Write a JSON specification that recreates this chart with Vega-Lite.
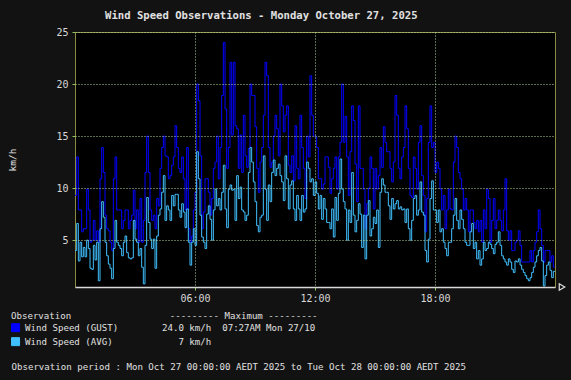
{
"$schema": "https://vega.github.io/schema/vega-lite/v6.json",
"width": 480, "height": 255,
"autosize": {"type": "none"},
"padding": {"left": 75, "top": 32, "right": 16, "bottom": 93},
"background": "#121212",
"config": {"font": "DejaVu Sans Mono", "view": {"stroke": "#8a8a40", "fill": "#000000"}},
"title": {"text": "Wind Speed Observations - Monday October 27, 2025", "anchor": "start", "frame": "group", "dx": 30, "offset": 5, "fontSize": 10.6, "font": "DejaVu Sans Mono", "fontWeight": "bold", "color": "#e0e0e0"},
"layer": [
{
"data": {"values": [
{"t":"2025-10-27T00:00","gust":9.3,"avg":4.0},{"t":"2025-10-27T00:05","gust":13.0,"avg":6.6},{"t":"2025-10-27T00:10","gust":7.9,"avg":3.0},{"t":"2025-10-27T00:15","gust":7.9,"avg":4.8},{"t":"2025-10-27T00:20","gust":5.8,"avg":3.4},{"t":"2025-10-27T00:25","gust":6.1,"avg":4.3},{"t":"2025-10-27T00:30","gust":6.1,"avg":3.4},{"t":"2025-10-27T00:35","gust":9.9,"avg":5.0},{"t":"2025-10-27T00:40","gust":7.9,"avg":4.2},{"t":"2025-10-27T00:45","gust":4.8,"avg":2.3},{"t":"2025-10-27T00:50","gust":5.0,"avg":2.2},{"t":"2025-10-27T00:55","gust":6.9,"avg":4.5},
{"t":"2025-10-27T01:00","gust":5.0,"avg":3.1},{"t":"2025-10-27T01:05","gust":5.9,"avg":4.8},{"t":"2025-10-27T01:10","gust":4.8,"avg":1.1},{"t":"2025-10-27T01:15","gust":10.9,"avg":6.1},{"t":"2025-10-27T01:20","gust":13.9,"avg":8.7},{"t":"2025-10-27T01:25","gust":11.5,"avg":7.2},{"t":"2025-10-27T01:30","gust":7.4,"avg":4.8},{"t":"2025-10-27T01:35","gust":6.1,"avg":3.5},{"t":"2025-10-27T01:40","gust":5.9,"avg":2.7},{"t":"2025-10-27T01:45","gust":4.8,"avg":2.3},{"t":"2025-10-27T01:50","gust":4.0,"avg":1.3},{"t":"2025-10-27T01:55","gust":10.9,"avg":4.2},
{"t":"2025-10-27T02:00","gust":13.0,"avg":6.9},{"t":"2025-10-27T02:05","gust":7.9,"avg":4.8},{"t":"2025-10-27T02:10","gust":7.9,"avg":4.5},{"t":"2025-10-27T02:15","gust":7.9,"avg":4.2},{"t":"2025-10-27T02:20","gust":6.1,"avg":3.5},{"t":"2025-10-27T02:25","gust":6.9,"avg":4.8},{"t":"2025-10-27T02:30","gust":7.9,"avg":5.4},{"t":"2025-10-27T02:35","gust":7.9,"avg":3.8},{"t":"2025-10-27T02:40","gust":6.1,"avg":3.3},{"t":"2025-10-27T02:45","gust":6.9,"avg":3.2},{"t":"2025-10-27T02:50","gust":7.4,"avg":3.3},{"t":"2025-10-27T02:55","gust":9.8,"avg":6.9},
{"t":"2025-10-27T03:00","gust":6.1,"avg":5.1},{"t":"2025-10-27T03:05","gust":7.9,"avg":4.8},{"t":"2025-10-27T03:10","gust":4.8,"avg":3.5},{"t":"2025-10-27T03:15","gust":9.0,"avg":4.2},{"t":"2025-10-27T03:20","gust":4.8,"avg":2.4},{"t":"2025-10-27T03:25","gust":6.9,"avg":0.8},{"t":"2025-10-27T03:30","gust":11.5,"avg":4.5},{"t":"2025-10-27T03:35","gust":15.0,"avg":9.1},{"t":"2025-10-27T03:40","gust":11.5,"avg":6.7},{"t":"2025-10-27T03:45","gust":7.9,"avg":5.1},{"t":"2025-10-27T03:50","gust":6.9,"avg":4.2},{"t":"2025-10-27T03:55","gust":7.4,"avg":5.1},
{"t":"2025-10-27T04:00","gust":6.1,"avg":2.3},{"t":"2025-10-27T04:05","gust":9.0,"avg":5.4},{"t":"2025-10-27T04:10","gust":8.3,"avg":7.4},{"t":"2025-10-27T04:15","gust":11.9,"avg":8.0},{"t":"2025-10-27T04:20","gust":13.9,"avg":9.6},{"t":"2025-10-27T04:25","gust":15.0,"avg":11.2},{"t":"2025-10-27T04:30","gust":13.1,"avg":6.9},{"t":"2025-10-27T04:35","gust":13.0,"avg":8.3},{"t":"2025-10-27T04:40","gust":10.9,"avg":7.9},{"t":"2025-10-27T04:45","gust":11.2,"avg":6.9},{"t":"2025-10-27T04:50","gust":12.2,"avg":9.3},{"t":"2025-10-27T04:55","gust":13.0,"avg":8.3},
{"t":"2025-10-27T05:00","gust":16.0,"avg":9.4},{"t":"2025-10-27T05:05","gust":13.9,"avg":9.4},{"t":"2025-10-27T05:10","gust":11.9,"avg":7.9},{"t":"2025-10-27T05:15","gust":11.5,"avg":7.2},{"t":"2025-10-27T05:20","gust":13.0,"avg":8.5},{"t":"2025-10-27T05:25","gust":10.9,"avg":7.7},{"t":"2025-10-27T05:30","gust":7.9,"avg":6.2},{"t":"2025-10-27T05:35","gust":13.9,"avg":8.0},{"t":"2025-10-27T05:40","gust":6.1,"avg":4.8},{"t":"2025-10-27T05:45","gust":4.8,"avg":2.6},{"t":"2025-10-27T05:50","gust":5.4,"avg":4.8},{"t":"2025-10-27T05:55","gust":7.9,"avg":6.1},
{"t":"2025-10-27T06:00","gust":9.6,"avg":4.5},{"t":"2025-10-27T06:05","gust":20.0,"avg":13.5},{"t":"2025-10-27T06:10","gust":18.4,"avg":10.9},{"t":"2025-10-27T06:15","gust":13.1,"avg":7.4},{"t":"2025-10-27T06:20","gust":6.1,"avg":5.3},{"t":"2025-10-27T06:25","gust":7.7,"avg":4.8},{"t":"2025-10-27T06:30","gust":10.9,"avg":4.2},{"t":"2025-10-27T06:35","gust":10.9,"avg":7.5},{"t":"2025-10-27T06:40","gust":9.6,"avg":8.3},{"t":"2025-10-27T06:45","gust":7.4,"avg":7.0},{"t":"2025-10-27T06:50","gust":9.0,"avg":5.0},{"t":"2025-10-27T06:55","gust":11.9,"avg":7.9},
{"t":"2025-10-27T07:00","gust":12.5,"avg":9.9},{"t":"2025-10-27T07:05","gust":15.0,"avg":8.3},{"t":"2025-10-27T07:10","gust":10.9,"avg":9.0},{"t":"2025-10-27T07:15","gust":13.9,"avg":7.9},{"t":"2025-10-27T07:20","gust":18.9,"avg":9.6},{"t":"2025-10-27T07:25","gust":24.0,"avg":12.2},{"t":"2025-10-27T07:30","gust":17.6,"avg":8.0},{"t":"2025-10-27T07:35","gust":11.9,"avg":6.2},{"t":"2025-10-27T07:40","gust":13.9,"avg":9.9},{"t":"2025-10-27T07:45","gust":22.1,"avg":10.3},{"t":"2025-10-27T07:50","gust":15.1,"avg":9.8},{"t":"2025-10-27T07:55","gust":22.1,"avg":9.9},
{"t":"2025-10-27T08:00","gust":16.0,"avg":6.9},{"t":"2025-10-27T08:05","gust":15.7,"avg":11.2},{"t":"2025-10-27T08:10","gust":11.9,"avg":9.0},{"t":"2025-10-27T08:15","gust":15.1,"avg":10.1},{"t":"2025-10-27T08:20","gust":11.5,"avg":7.9},{"t":"2025-10-27T08:25","gust":17.0,"avg":7.7},{"t":"2025-10-27T08:30","gust":13.1,"avg":6.9},{"t":"2025-10-27T08:35","gust":12.0,"avg":7.4},{"t":"2025-10-27T08:40","gust":13.8,"avg":11.5},{"t":"2025-10-27T08:45","gust":20.0,"avg":13.9},{"t":"2025-10-27T08:50","gust":18.9,"avg":12.5},{"t":"2025-10-27T08:55","gust":18.9,"avg":10.6},
{"t":"2025-10-27T09:00","gust":15.9,"avg":8.7},{"t":"2025-10-27T09:05","gust":11.9,"avg":6.4},{"t":"2025-10-27T09:10","gust":9.6,"avg":5.8},{"t":"2025-10-27T09:15","gust":12.5,"avg":7.2},{"t":"2025-10-27T09:20","gust":13.9,"avg":7.4},{"t":"2025-10-27T09:25","gust":17.0,"avg":13.1},{"t":"2025-10-27T09:30","gust":22.1,"avg":9.9},{"t":"2025-10-27T09:35","gust":20.8,"avg":6.9},{"t":"2025-10-27T09:40","gust":13.9,"avg":10.3},{"t":"2025-10-27T09:45","gust":12.0,"avg":8.7},{"t":"2025-10-27T09:50","gust":12.5,"avg":11.5},{"t":"2025-10-27T09:55","gust":15.0,"avg":12.7},
{"t":"2025-10-27T10:00","gust":17.0,"avg":11.2},{"t":"2025-10-27T10:05","gust":15.7,"avg":11.9},{"t":"2025-10-27T10:10","gust":13.1,"avg":12.3},{"t":"2025-10-27T10:15","gust":20.0,"avg":11.2},{"t":"2025-10-27T10:20","gust":17.9,"avg":10.6},{"t":"2025-10-27T10:25","gust":15.4,"avg":8.8},{"t":"2025-10-27T10:30","gust":17.0,"avg":13.1},{"t":"2025-10-27T10:35","gust":17.9,"avg":10.9},{"t":"2025-10-27T10:40","gust":12.2,"avg":8.0},{"t":"2025-10-27T10:45","gust":11.5,"avg":10.3},{"t":"2025-10-27T10:50","gust":13.1,"avg":10.7},{"t":"2025-10-27T10:55","gust":10.7,"avg":8.0},
{"t":"2025-10-27T11:00","gust":16.0,"avg":6.9},{"t":"2025-10-27T11:05","gust":11.9,"avg":9.3},{"t":"2025-10-27T11:10","gust":10.9,"avg":8.0},{"t":"2025-10-27T11:15","gust":17.0,"avg":6.9},{"t":"2025-10-27T11:20","gust":13.9,"avg":9.3},{"t":"2025-10-27T11:25","gust":11.9,"avg":7.7},{"t":"2025-10-27T11:30","gust":9.0,"avg":8.0},{"t":"2025-10-27T11:35","gust":15.0,"avg":12.5},{"t":"2025-10-27T11:40","gust":13.0,"avg":11.9},{"t":"2025-10-27T11:45","gust":20.8,"avg":10.6},{"t":"2025-10-27T11:50","gust":17.0,"avg":10.9},{"t":"2025-10-27T11:55","gust":15.0,"avg":9.3},
{"t":"2025-10-27T12:00","gust":15.0,"avg":10.6},{"t":"2025-10-27T12:05","gust":13.9,"avg":9.5},{"t":"2025-10-27T12:10","gust":10.9,"avg":8.0},{"t":"2025-10-27T12:15","gust":10.9,"avg":9.3},{"t":"2025-10-27T12:20","gust":9.9,"avg":7.0},{"t":"2025-10-27T12:25","gust":10.4,"avg":9.0},{"t":"2025-10-27T12:30","gust":13.0,"avg":8.0},{"t":"2025-10-27T12:35","gust":13.0,"avg":6.7},{"t":"2025-10-27T12:40","gust":12.0,"avg":6.7},{"t":"2025-10-27T12:45","gust":9.5,"avg":6.1},{"t":"2025-10-27T12:50","gust":10.9,"avg":8.0},{"t":"2025-10-27T12:55","gust":11.9,"avg":5.3},
{"t":"2025-10-27T13:00","gust":13.0,"avg":9.1},{"t":"2025-10-27T13:05","gust":9.9,"avg":6.9},{"t":"2025-10-27T13:10","gust":13.0,"avg":9.5},{"t":"2025-10-27T13:15","gust":14.4,"avg":12.8},{"t":"2025-10-27T13:20","gust":20.0,"avg":9.9},{"t":"2025-10-27T13:25","gust":14.4,"avg":8.7},{"t":"2025-10-27T13:30","gust":16.9,"avg":8.0},{"t":"2025-10-27T13:35","gust":13.0,"avg":5.0},{"t":"2025-10-27T13:40","gust":9.3,"avg":7.9},{"t":"2025-10-27T13:45","gust":13.5,"avg":6.7},{"t":"2025-10-27T13:50","gust":17.9,"avg":11.5},{"t":"2025-10-27T13:55","gust":16.5,"avg":7.4},
{"t":"2025-10-27T14:00","gust":12.3,"avg":5.8},{"t":"2025-10-27T14:05","gust":8.7,"avg":6.9},{"t":"2025-10-27T14:10","gust":17.9,"avg":8.5},{"t":"2025-10-27T14:15","gust":11.9,"avg":7.5},{"t":"2025-10-27T14:20","gust":11.9,"avg":4.3},{"t":"2025-10-27T14:25","gust":9.9,"avg":7.4},{"t":"2025-10-27T14:30","gust":6.1,"avg":3.2},{"t":"2025-10-27T14:35","gust":8.5,"avg":7.4},{"t":"2025-10-27T14:40","gust":10.0,"avg":8.8},{"t":"2025-10-27T14:45","gust":13.0,"avg":5.4},{"t":"2025-10-27T14:50","gust":11.9,"avg":6.1},{"t":"2025-10-27T14:55","gust":8.0,"avg":7.2},
{"t":"2025-10-27T15:00","gust":11.9,"avg":6.6},{"t":"2025-10-27T15:05","gust":9.9,"avg":7.9},{"t":"2025-10-27T15:10","gust":11.2,"avg":4.3},{"t":"2025-10-27T15:15","gust":13.9,"avg":9.6},{"t":"2025-10-27T15:20","gust":12.0,"avg":10.9},{"t":"2025-10-27T15:25","gust":15.9,"avg":10.3},{"t":"2025-10-27T15:30","gust":14.4,"avg":9.6},{"t":"2025-10-27T15:35","gust":13.5,"avg":9.6},{"t":"2025-10-27T15:40","gust":13.5,"avg":8.3},{"t":"2025-10-27T15:45","gust":11.9,"avg":7.0},{"t":"2025-10-27T15:50","gust":10.6,"avg":9.0},{"t":"2025-10-27T15:55","gust":12.5,"avg":8.0},
{"t":"2025-10-27T16:00","gust":18.9,"avg":8.5},{"t":"2025-10-27T16:05","gust":17.0,"avg":8.8},{"t":"2025-10-27T16:10","gust":11.9,"avg":8.0},{"t":"2025-10-27T16:15","gust":10.9,"avg":8.2},{"t":"2025-10-27T16:20","gust":13.0,"avg":7.9},{"t":"2025-10-27T16:25","gust":13.9,"avg":8.0},{"t":"2025-10-27T16:30","gust":17.9,"avg":6.7},{"t":"2025-10-27T16:35","gust":15.7,"avg":8.0},{"t":"2025-10-27T16:40","gust":11.9,"avg":6.1},{"t":"2025-10-27T16:45","gust":9.3,"avg":5.0},{"t":"2025-10-27T16:50","gust":9.1,"avg":6.9},{"t":"2025-10-27T16:55","gust":13.0,"avg":9.0},
{"t":"2025-10-27T17:00","gust":11.9,"avg":9.3},{"t":"2025-10-27T17:05","gust":9.9,"avg":7.4},{"t":"2025-10-27T17:10","gust":14.4,"avg":7.9},{"t":"2025-10-27T17:15","gust":16.0,"avg":10.6},{"t":"2025-10-27T17:20","gust":11.2,"avg":7.7},{"t":"2025-10-27T17:25","gust":9.3,"avg":7.4},{"t":"2025-10-27T17:30","gust":5.8,"avg":4.0},{"t":"2025-10-27T17:35","gust":9.0,"avg":2.9},{"t":"2025-10-27T17:40","gust":14.4,"avg":5.1},{"t":"2025-10-27T17:45","gust":17.9,"avg":9.0},{"t":"2025-10-27T17:50","gust":13.9,"avg":10.7},{"t":"2025-10-27T17:55","gust":14.4,"avg":7.9},
{"t":"2025-10-27T18:00","gust":11.5,"avg":7.9},{"t":"2025-10-27T18:05","gust":12.5,"avg":6.7},{"t":"2025-10-27T18:10","gust":11.9,"avg":7.9},{"t":"2025-10-27T18:15","gust":9.9,"avg":5.8},{"t":"2025-10-27T18:20","gust":7.9,"avg":6.1},{"t":"2025-10-27T18:25","gust":9.3,"avg":4.8},{"t":"2025-10-27T18:30","gust":6.1,"avg":4.2},{"t":"2025-10-27T18:35","gust":7.9,"avg":3.5},{"t":"2025-10-27T18:40","gust":9.9,"avg":4.8},{"t":"2025-10-27T18:45","gust":8.0,"avg":4.8},{"t":"2025-10-27T18:50","gust":7.9,"avg":6.1},{"t":"2025-10-27T18:55","gust":12.5,"avg":7.4},
{"t":"2025-10-27T19:00","gust":15.0,"avg":9.0},{"t":"2025-10-27T19:05","gust":13.9,"avg":6.9},{"t":"2025-10-27T19:10","gust":11.5,"avg":6.1},{"t":"2025-10-27T19:15","gust":10.9,"avg":7.9},{"t":"2025-10-27T19:20","gust":9.9,"avg":7.0},{"t":"2025-10-27T19:25","gust":7.9,"avg":6.1},{"t":"2025-10-27T19:30","gust":9.0,"avg":4.8},{"t":"2025-10-27T19:35","gust":7.9,"avg":4.5},{"t":"2025-10-27T19:40","gust":5.8,"avg":4.5},{"t":"2025-10-27T19:45","gust":7.9,"avg":5.8},{"t":"2025-10-27T19:50","gust":7.9,"avg":6.6},{"t":"2025-10-27T19:55","gust":6.7,"avg":4.2},
{"t":"2025-10-27T20:00","gust":6.1,"avg":4.8},{"t":"2025-10-27T20:05","gust":6.9,"avg":3.2},{"t":"2025-10-27T20:10","gust":5.8,"avg":4.0},{"t":"2025-10-27T20:15","gust":6.9,"avg":2.6},{"t":"2025-10-27T20:20","gust":4.8,"avg":3.2},{"t":"2025-10-27T20:25","gust":7.9,"avg":4.8},{"t":"2025-10-27T20:30","gust":6.1,"avg":4.0},{"t":"2025-10-27T20:35","gust":9.9,"avg":4.2},{"t":"2025-10-27T20:40","gust":9.0,"avg":4.8},{"t":"2025-10-27T20:45","gust":4.8,"avg":4.6},{"t":"2025-10-27T20:50","gust":6.9,"avg":4.2},{"t":"2025-10-27T20:55","gust":9.0,"avg":3.7},
{"t":"2025-10-27T21:00","gust":6.1,"avg":4.6},{"t":"2025-10-27T21:05","gust":6.9,"avg":4.8},{"t":"2025-10-27T21:10","gust":7.9,"avg":5.8},{"t":"2025-10-27T21:15","gust":6.9,"avg":4.5},{"t":"2025-10-27T21:20","gust":5.9,"avg":3.5},{"t":"2025-10-27T21:25","gust":7.9,"avg":3.2},{"t":"2025-10-27T21:30","gust":10.9,"avg":2.9},{"t":"2025-10-27T21:35","gust":5.9,"avg":2.6},{"t":"2025-10-27T21:40","gust":5.0,"avg":3.2},{"t":"2025-10-27T21:45","gust":5.9,"avg":2.9},{"t":"2025-10-27T21:50","gust":4.0,"avg":2.2},{"t":"2025-10-27T21:55","gust":4.0,"avg":1.9},
{"t":"2025-10-27T22:00","gust":4.8,"avg":3.0},{"t":"2025-10-27T22:05","gust":5.0,"avg":2.9},{"t":"2025-10-27T22:10","gust":5.9,"avg":3.2},{"t":"2025-10-27T22:15","gust":4.5,"avg":2.6},{"t":"2025-10-27T22:20","gust":2.9,"avg":2.2},{"t":"2025-10-27T22:25","gust":2.9,"avg":1.9},{"t":"2025-10-27T22:30","gust":2.9,"avg":1.6},{"t":"2025-10-27T22:35","gust":2.9,"avg":1.3},{"t":"2025-10-27T22:40","gust":2.9,"avg":1.1},{"t":"2025-10-27T22:45","gust":4.0,"avg":1.4},{"t":"2025-10-27T22:50","gust":2.9,"avg":1.9},{"t":"2025-10-27T22:55","gust":4.0,"avg":2.4},
{"t":"2025-10-27T23:00","gust":4.8,"avg":2.9},{"t":"2025-10-27T23:05","gust":5.8,"avg":3.5},{"t":"2025-10-27T23:10","gust":7.9,"avg":4.0},{"t":"2025-10-27T23:15","gust":6.1,"avg":4.3},{"t":"2025-10-27T23:20","gust":4.5,"avg":3.0},{"t":"2025-10-27T23:25","gust":2.9,"avg":0.6},{"t":"2025-10-27T23:30","gust":4.0,"avg":1.6},{"t":"2025-10-27T23:35","gust":4.0,"avg":2.6},{"t":"2025-10-27T23:40","gust":4.0,"avg":2.9},{"t":"2025-10-27T23:45","gust":2.9,"avg":2.1},{"t":"2025-10-27T23:50","gust":3.5,"avg":1.4},{"t":"2025-10-27T23:55","gust":2.4,"avg":2.0},
{"t":"2025-10-28T00:00","gust":2.4,"avg":2.0}
]},
"transform": [{"fold": ["gust", "avg"], "as": ["series", "v"]}],
"mark": {"type": "line", "interpolate": "step-after", "strokeWidth": 1},
"encoding": {
"x": {"field": "t", "type": "temporal",
 "scale": {"domain": [{"year": 2025, "month": 10, "date": 27, "hours": 0}, {"year": 2025, "month": 10, "date": 28, "hours": 0}]},
 "axis": {"values": [{"year": 2025, "month": 10, "date": 27, "hours": 6}, {"year": 2025, "month": 10, "date": 27, "hours": 12}, {"year": 2025, "month": 10, "date": 27, "hours": 18}],
  "format": "%H:%M", "labelFont": "DejaVu Sans Mono", "labelFontSize": 10, "labelColor": "#d8d8d8", "labelPadding": 3,
  "tickSize": 3, "tickColor": "#90c060", "domainColor": "#d8d8d8", "domainWidth": 1.5,
  "grid": true, "gridColor": "#b8d8a0", "gridDash": [1, 2], "gridWidth": 1, "zindex": 1, "labelFlush": false,
  "title": "Observation period : Mon Oct 27 00:00:00 AEDT 2025 to Tue Oct 28 00:00:00 AEDT 2025",
  "titleFont": "DejaVu Sans Mono", "titleFontSize": 9.1, "titleFontWeight": "normal", "titleColor": "#e0e0e0",
  "titleX": -64, "titleY": 79, "titleAlign": "left", "titleBaseline": "middle", "titleAnchor": "start"}},
"y": {"field": "v", "type": "quantitative",
 "scale": {"domain": [0.5, 25], "nice": false, "zero": false},
 "axis": {"values": [5, 10, 15, 20, 25], "labelFont": "DejaVu Sans Mono", "labelFontSize": 10, "labelColor": "#d8d8d8", "labelPadding": 4,
  "tickSize": 3, "tickColor": "#90c060", "domain": false,
  "grid": true, "gridColor": "#b8d8a0", "gridDash": [1, 2], "gridWidth": 1, "zindex": 1,
  "title": "km/h", "titleFont": "DejaVu Sans Mono", "titleFontSize": 9.5, "titleFontWeight": "normal", "titleColor": "#e0e0e0", "titlePadding": 38}},
"color": {"field": "series", "type": "nominal",
 "scale": {"domain": ["gust", "avg"], "range": ["#0000ff", "#40c0ff"]},
 "legend": {"orient": "none", "legendX": -64, "legendY": 280, "padding": 0,
  "title": "Observation\u00a0\u00a0\u00a0\u00a0\u00a0\u00a0\u00a0\u00a0\u00a0\u00a0\u00a0\u00a0\u00a0\u00a0\u00a0\u00a0\u00a0\u00a0--------- Maximum ---------",
  "titleFont": "DejaVu Sans Mono", "titleFontSize": 9.1, "titleFontWeight": "normal", "titleColor": "#e0e0e0", "titlePadding": 2, "titleLimit": 600,
  "labelFont": "DejaVu Sans Mono", "labelFontSize": 9.1, "labelColor": "#e0e0e0", "labelLimit": 600, "labelOffset": 5,
  "labelExpr": "datum.value == 'gust' ? 'Wind Speed (GUST)\u00a0\u00a0\u00a0\u00a0\u00a0\u00a0\u00a0\u00a024.0 km/h\u00a0\u00a007:27AM Mon 27/10' : 'Wind Speed (AVG)\u00a0\u00a0\u00a0\u00a0\u00a0\u00a0\u00a0\u00a0\u00a0\u00a0\u00a0\u00a07 km/h'",
  "symbolType": "square", "symbolSize": 64, "symbolStrokeWidth": 1, "symbolStrokeColor": "#a0a0a0", "rowPadding": 1,
  "encode": {"symbols": {"update": {"fill": {"scale": "color", "field": "value"}, "stroke": {"value": "#a0a0a0"}, "opacity": {"value": 1}}}}}}
}
},
{
"data": {"values": [{}]},
"mark": {"type": "point", "shape": "triangle-right", "filled": false, "stroke": "#e0e0e0", "strokeWidth": 1.2, "size": 40, "opacity": 1},
"encoding": {
"x": {"datum": {"year": 2025, "month": 10, "date": 28, "hours": 0, "minutes": 21}, "type": "temporal",
 "scale": {"domain": [{"year": 2025, "month": 10, "date": 27, "hours": 0}, {"year": 2025, "month": 10, "date": 28, "hours": 0}]}},
"y": {"datum": 0.5, "type": "quantitative", "scale": {"domain": [0.5, 25], "nice": false, "zero": false}}
}
}
]
}
